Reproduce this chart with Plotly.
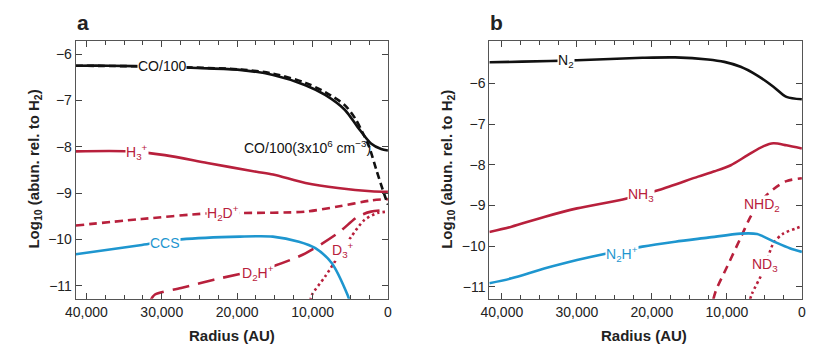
import plotly.graph_objects as go

# ---------- Panel a data (radius AU, log10 abundance) ----------
co_x = [41400, 36980, 30470, 25260, 19660, 15230, 10940, 8330, 5730, 4040, 2250, 900, 0]
co_y = [-6.25, -6.25, -6.27, -6.30, -6.34, -6.45, -6.67, -6.88, -7.20, -7.57, -7.93, -8.05, -8.08]

co_hd_x = [41400, 30470, 19660, 15230, 10940, 8330, 5730, 4300, 3400, 2500, 1500, 500, 0]
co_hd_y = [-6.25, -6.27, -6.33, -6.42, -6.62, -6.82, -7.10, -7.40, -7.68, -8.00, -8.52, -9.02, -9.25]

h3_x = [41400, 34370, 29590, 23960, 17450, 15230, 10940, 6640, 2250, 0]
h3_y = [-8.10, -8.10, -8.18, -8.35, -8.54, -8.60, -8.78, -8.89, -8.96, -8.97]

h2d_x = [41400, 32680, 23960, 19660, 10940, 6640, 2250, 0]
h2d_y = [-9.70, -9.56, -9.44, -9.43, -9.40, -9.29, -9.16, -9.13]

ccs_x = [41400, 32640, 27430, 19620, 15270, 11810, 9630, 7460, 5380, 5100]
ccs_y = [-10.32, -10.12, -10.00, -9.94, -9.94, -10.05, -10.19, -10.51, -11.19, -11.32]

d2h_x = [31500, 30900, 27430, 23090, 15270, 10940, 6600, 4000, 2250, 0]
d2h_y = [-11.32, -11.19, -11.05, -10.87, -10.58, -10.30, -9.86, -9.51, -9.40, -9.36]

d3_x = [10300, 10060, 8330, 6600, 4860, 3120, 1390, 0]
d3_y = [-11.32, -11.19, -10.80, -10.37, -9.94, -9.58, -9.43, -9.40]

# ---------- Panel b data ----------
n2_x = [41660, 41550, 33470, 29980, 21260, 16890, 12530, 10340, 8170, 5980, 3800, 2060, 0]
n2_y = [-5.48, -5.48, -5.45, -5.43, -5.37, -5.36, -5.41, -5.47, -5.59, -5.80, -6.08, -6.33, -6.39]

nh3_x = [41660, 38710, 34350, 29980, 23880, 19070, 13840, 11650, 9480, 7290, 5100, 3800, 2060, 0]
nh3_y = [-9.65, -9.52, -9.28, -9.07, -8.85, -8.62, -8.29, -8.16, -8.01, -7.77, -7.54, -7.47, -7.52, -7.60]

n2h_x = [41660, 38710, 34350, 29980, 21260, 16890, 12530, 8170, 5980, 3800, 1620, 0]
n2h_y = [-10.91, -10.79, -10.55, -10.34, -10.01, -9.89, -9.79, -9.69, -9.70, -9.88, -10.05, -10.14]

nhd2_x = [11800, 11440, 9910, 8210, 6860, 5550, 3800, 2060, 0]
nhd2_y = [-11.30, -11.08, -10.48, -9.81, -9.28, -8.90, -8.60, -8.40, -8.33]

nd3_x = [6900, 6640, 5100, 3800, 2490, 750, 0]
nd3_y = [-11.30, -11.16, -10.59, -9.93, -9.69, -9.56, -9.51]

x_tickvals = [40000, 30000, 20000, 10000, 0]
x_ticktext = ["40,000", "30,000", "20,000", "10,000", "0"]
y_tickvals = [-6, -7, -8, -9, -10, -11]

RED = "#b8203c"
BLUE = "#1e96cf"
BLACK = "#111111"
FONT = "Liberation Sans, Arial, sans-serif"

W, H = 817, 349
def px(x):
    return x / W
def py(y):
    return 1 - y / H

fig = go.Figure()

def add(x, y, color, dash, xa, ya, width=2.6):
    fig.add_trace(go.Scatter(x=x, y=y, mode="lines", xaxis=xa, yaxis=ya,
                             line=dict(color=color, width=width, dash=dash,
                                       shape="spline", smoothing=0.8),
                             hoverinfo="skip", showlegend=False))

# panel a
add(h2d_x, h2d_y, RED, "8px,5px", "x", "y")
add(d2h_x, d2h_y, RED, "17px,9px", "x", "y")
add(d3_x, d3_y, RED, "2.6px,3px", "x", "y")
add(ccs_x, ccs_y, BLUE, "solid", "x", "y")
add(h3_x, h3_y, RED, "solid", "x", "y")
add(co_hd_x, co_hd_y, BLACK, "7px,4px", "x", "y")
add(co_x, co_y, BLACK, "solid", "x", "y")
# panel b
add(nhd2_x, nhd2_y, RED, "8px,6px", "x2", "y2")
add(nd3_x, nd3_y, RED, "2.6px,3px", "x2", "y2")
add(n2h_x, n2h_y, BLUE, "solid", "x2", "y2")
add(nh3_x, nh3_y, RED, "solid", "x2", "y2")
add(n2_x, n2_y, BLACK, "solid", "x2", "y2")

axis_font = dict(family=FONT, size=14, color="#222")
common_x = dict(tickmode="array", tickvals=x_tickvals, ticktext=x_ticktext,
                ticks="inside", ticklen=6, tickwidth=1, tickcolor="#444",
                showline=True, linecolor="#555", linewidth=1.2, mirror="ticks",
                showgrid=False, zeroline=False, tickfont=axis_font,
                minor=dict(dtick=2500, tick0=0, ticks="inside", ticklen=4,
                           tickcolor="#444", tickwidth=1, showgrid=False))
common_y = dict(tickmode="array", tickvals=y_tickvals,
                ticks="inside", ticklen=6, tickwidth=1, tickcolor="#444",
                showline=True, linecolor="#555", linewidth=1.2, mirror="ticks",
                showgrid=False, zeroline=False, tickfont=axis_font)

fig.update_layout(
    width=W, height=H,
    margin=dict(l=0, r=0, t=0, b=0),
    paper_bgcolor="white", plot_bgcolor="white",
    xaxis=dict(domain=[px(66), px(384)], range=[41400, 0], anchor="y", **common_x),
    yaxis=dict(domain=[py(298.7), py(40.7)], range=[-11.28, -5.71], anchor="x", **common_y),
    xaxis2=dict(domain=[px(487.3), px(805.7)], range=[41660, 0], anchor="y2", **common_x),
    yaxis2=dict(domain=[py(298.7), py(40.7)], range=[-11.29, -4.95], anchor="x2", **common_y),
)

ann = []
def label(text, x, y, color, xref, yref, bg="white", size=14):
    ann.append(dict(text=text, x=x, y=y, xref=xref, yref=yref, showarrow=False,
                    font=dict(family=FONT, size=size, color=color),
                    bgcolor=bg, borderpad=0, xanchor="center", yanchor="middle"))

def paper_text(text, x, y, size=14, angle=0, bold=True, xanchor="center", yanchor="middle"):
    ann.append(dict(text=("<b>%s</b>" % text) if bold else text, x=px(x), y=py(y),
                    xref="paper", yref="paper", showarrow=False, textangle=angle,
                    font=dict(family=FONT, size=size, color="#222"),
                    xanchor=xanchor, yanchor=yanchor))

# panel a labels
label("CO/100", 29900, -6.26, BLACK, "x", "y")
label("CO/100(3x10<sup>6</sup> cm<sup>−3</sup>)", 10700, -8.0, BLACK, "x", "y", bg="rgba(0,0,0,0)")
label("H<sub>3</sub><sup>+</sup>", 33300, -8.11, RED, "x", "y")
label("H<sub>2</sub>D<sup>+</sup>", 21900, -9.42, RED, "x", "y")
label("CCS", 29600, -10.07, BLUE, "x", "y")
label("D<sub>2</sub>H<sup>+</sup>", 17300, -10.72, RED, "x", "y")
label("D<sub>3</sub><sup>+</sup>", 5900, -10.22, RED, "x", "y")

# panel b labels
label("N<sub>2</sub>", 31500, -5.44, BLACK, "x2", "y2")
label("NH<sub>3</sub>", 21400, -8.74, RED, "x2", "y2")
label("N<sub>2</sub>H<sup>+</sup>", 24000, -10.2, BLUE, "x2", "y2")
label("NHD<sub>2</sub>", 5350, -8.98, RED, "x2", "y2")
label("ND<sub>3</sub>", 4900, -10.46, RED, "x2", "y2")

# panel letters
paper_text("a", 65, 23, size=21, xanchor="left")
paper_text("b", 486, 23, size=21, xanchor="left")
# axis titles
paper_text("Radius (AU)", 225, 335, size=15)
paper_text("Radius (AU)", 645, 335, size=15)
paper_text("Log<sub>10</sub> (abun. rel. to H<sub>2</sub>)", 24, 169, size=15, angle=-90)
paper_text("Log<sub>10</sub> (abun. rel. to H<sub>2</sub>)", 445, 169, size=15, angle=-90)

fig.update_layout(annotations=ann)
fig.write_html("out.html", config={"displayModeBar": False},
               post_script="document.body.style.margin='0';document.body.style.overflow='hidden';")
